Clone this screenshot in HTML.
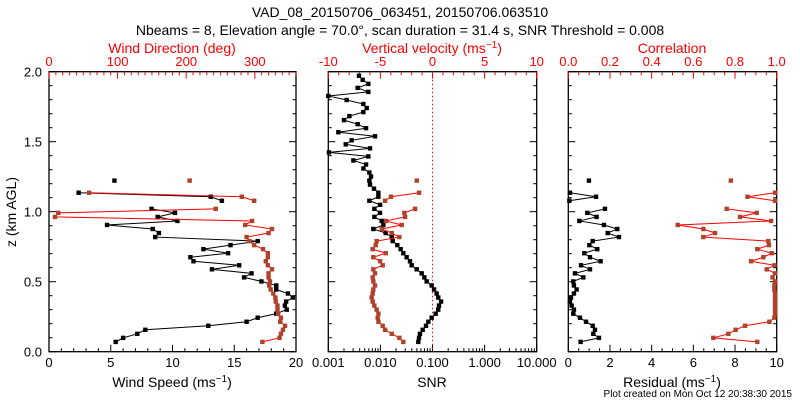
<!DOCTYPE html>
<html><head><meta charset="utf-8"><style>
body{margin:0;background:#fff}
svg{display:block;font-family:"Liberation Sans",sans-serif}
</style></head><body>
<svg id="c" width="800" height="400">
<text x="400" y="17" text-anchor="middle" font-size="14">VAD_08_20150706_063451, 20150706.063510</text>
<text x="400" y="35" text-anchor="middle" font-size="14">Nbeams = 8, Elevation angle = 70.0°, scan duration = 31.4 s, SNR Threshold = 0.008</text>
<text x="172" y="53" text-anchor="middle" font-size="14" fill="#f00">Wind Direction (deg)</text>
<text x="432" y="53" text-anchor="middle" font-size="14" fill="#f00">Vertical velocity (ms<tspan dy="-5" font-size="10">−1</tspan><tspan dy="5">)</tspan></text>
<text x="672" y="53" text-anchor="middle" font-size="14" fill="#f00">Correlation</text>
<text x="172" y="387" text-anchor="middle" font-size="14">Wind Speed (ms<tspan dy="-5" font-size="10">−1</tspan><tspan dy="5">)</tspan></text>
<text x="432" y="387" text-anchor="middle" font-size="14">SNR</text>
<text x="672" y="387" text-anchor="middle" font-size="14">Residual (ms<tspan dy="-5" font-size="10">−1</tspan><tspan dy="5">)</tspan></text>
<text x="16" y="212" text-anchor="middle" font-size="14" transform="rotate(-90 16 212)">z (km AGL)</text>
<text x="792" y="397" text-anchor="end" font-size="10">Plot created on Mon Oct 12 20:38:30 2015</text>
</svg>
<script>
const heightsBase = 0.07, heightStep = 0.0288;
const windSpeed = [5.4,6.0,7.15,7.8,12.9,16.0,16.9,18.4,19.25,19.1,19.2,19.75,19.35,18.4,18.4,17.2,15.8,16.4,13.2,15.4,11.7,11.45,14.5,12.5,14.7,16.9,8.6,8.9,8.4,4.7,10.4,8.8,10.2,8.3,null,14.0,13.1,2.4,null,null,5.3];
const windDir = [311,336,338,341,344,337,338,334,333,333,330.5,330,327,323,321,322,320,320,325,319,316,319,319,312,299,292,288,320,325,286,296,8.7,13.5,243,null,299,281,58.5,null,null,205];
const snr = [0.0534,0.0551,0.0575,0.0648,0.075,0.0832,0.0964,0.115,0.129,0.133,0.146,0.129,0.12,0.107,0.0964,0.0773,0.0697,0.0619,0.0497,0.0398,0.037,0.0319,0.0275,0.0245,0.0211,0.0172,0.0165,0.0126,0.00732,0.0114,0.0106,0.00766,0.00984,0.00766,0.00984,0.00614,0.00914,0.00914,0.00754,0.00632,0.00614,0.00661,0.00614,0.00471,0.0053,0.00303,0.00587,0.00103,0.00632,0.00216,0.00281,0.00789,0.00156,0.0053,0.00366,0.002,0.00254,0.00471,0.00546,0.00471,0.00225,0.001,0.00587,0.00366,0.00587,0.00457,0.00388];
const wVel = [-2.8,-3.18,-3.91,-4.55,-4.78,-5.19,-5.26,-5.19,-5.36,-5.58,-5.74,-5.84,-5.74,-5.68,-5.52,-5.68,-5.74,-5.52,-5.68,-4.78,-5.03,-5.68,-4.49,-5.74,-5.45,-5.36,-3.18,-3.91,-4.87,-2.96,-4.46,-2.63,-2.7,-1.67,null,-4.55,-3.98,-1.29,null,null,-1.51];
const residual = [0.59,1.47,1.2,1.28,1.17,0.85,0.56,0.24,0.27,0.16,0.08,0.13,0.27,0.4,0.27,0.24,0.72,0.32,1.04,0.61,1.55,1.04,0.77,1.39,1.01,1.17,2.43,1.89,2.35,1.71,0.53,1.36,0.91,1.76,null,0.05,1.33,0.08,null,null,0.99];
const correlation = [0.907,0.696,0.768,0.803,0.848,0.965,0.989,0.992,0.992,0.992,0.992,0.992,0.992,0.989,0.989,0.992,0.98,0.992,0.952,0.989,0.877,0.936,0.976,0.907,0.963,0.96,0.648,0.704,0.648,0.525,0.973,0.824,0.904,0.76,null,0.992,0.86,0.992,null,null,0.78];

const NS='http://www.w3.org/2000/svg', svg=document.getElementById('c');
const Y0=351.7, Y1=71.7;
const yS = z => Y0 - (z/2)*(Y0-Y1);
function el(t,a,p){const e=document.createElementNS(NS,t);for(const k in a)e.setAttribute(k,a[k]);(p||svg).appendChild(e);return e;}
function lin(a,b,l,r){return v=>l+(v-a)/(b-a)*(r-l);}
function logS(a,b,l,r){return v=>l+(Math.log10(v)-Math.log10(a))/(Math.log10(b)-Math.log10(a))*(r-l);}

function frame(l,r,name){
  const g=el('g',{});
  
  
  el('rect',{x:l,y:Y1,width:r-l,height:Y0-Y1,fill:'none',stroke:'#000','stroke-width':1.3},g);
  for(let k=0;k<=20;k++){const y=yS(k/10),len=k%5==0?7:3.5;
    el('line',{x1:l,x2:l+len,y1:y,y2:y,stroke:'#000'},g);
    el('line',{x1:r,x2:r-len,y1:y,y2:y,stroke:'#000'},g);}
  return g;
}
function bottomTicks(g,vals,sx,major,color){
  vals.forEach(v=>{const x=sx(v);el('line',{x1:x,x2:x,y1:Y0,y2:Y0-(major(v)?7:3.5),stroke:color},g);});
}
function topTicks(g,vals,sx,major,color){
  vals.forEach(v=>{const x=sx(v);el('line',{x1:x,x2:x,y1:Y1,y2:Y1+(major(v)?7:3.5),stroke:color},g);});
}
function labels(g,vals,sx,y,txt,color,nm){
  vals.forEach(v=>{const t=el('text',{x:sx(v),y:y,'text-anchor':'middle','font-size':13,fill:color},g);
    
    
    t.textContent=txt(v);});
}
function series(g,vals,sx,lineCol,markCol,nm){
  let seg=[];const segs=[];
  vals.forEach((v,i)=>{if(v==null){if(seg.length)segs.push(seg);seg=[];return;}
    seg.push([sx(v),yS(heightsBase+heightStep*i)]);});
  if(seg.length)segs.push(seg);
  segs.forEach(s=>{if(s.length>1){const p=el('polyline',{points:s.map(q=>q.join(',')).join(' '),fill:'none',stroke:lineCol,'stroke-width':1},g);
    
    }});
  vals.forEach((v,i)=>{if(v==null)return;const x=sx(v),y=yS(heightsBase+heightStep*i);
    const m=el('rect',{x:x-2.2,y:y-2.2,width:4.4,height:4.4,fill:markCol},g);
    
    });
}
const rng=(a,b,s)=>{const o=[];for(let v=a;v<=b+1e-9;v+=s)o.push(+v.toFixed(4));return o;};

// y labels
const yLabels=[0,0.5,1,1.5,2];
yLabels.forEach(z=>{const t=el('text',{x:42,y:yS(z)+5,'text-anchor':'end','font-size':13});
  
  
  t.textContent=z.toFixed(1);});

// Panel 1
const L1=49,R1=296;
const g1=frame(L1,R1,'wind-panel');
const sSpd=lin(0,20,L1,R1), sDir=lin(0,360,L1,R1);
bottomTicks(g1,rng(0,20,1),sSpd,v=>v%5==0,'#000');
topTicks(g1,rng(0,360,10),sDir,v=>v%100==0,'#f00');
labels(g1,[0,5,10,15,20],sSpd,367,v=>v,'#000','speed-tick-label');
labels(g1,[0,100,200,300],sDir,66,v=>v,'#f00','direction-tick-label');
series(g1,windSpeed,sSpd,'#000','#000','wind-speed');
series(g1,windDir,sDir,'#f00','#b0412a','wind-direction');

// Panel 2
const L2=328.3,R2=536.7;
const g2=frame(L2,R2,'snr-panel');
const sSnr=logS(0.001,10,L2,R2), sVel=lin(-10,10,L2,R2);
const logT=[];for(let d=-3;d<1;d++)for(let m=1;m<10;m++)logT.push(m*Math.pow(10,d));logT.push(10);
bottomTicks(g2,logT,sSnr,v=>Math.abs(Math.log10(v)-Math.round(Math.log10(v)))<1e-6,'#000');
topTicks(g2,rng(-10,10,1),sVel,v=>v%5==0,'#f00');
labels(g2,[0.001,0.01,0.1,1,10],sSnr,367,v=>v.toFixed(3),'#000','snr-tick-label');
labels(g2,[-10,-5,0,5,10],sVel,66,v=>v,'#f00','velocity-tick-label');
const dz=el('line',{x1:sVel(0),x2:sVel(0),y1:Y1,y2:Y0,stroke:'#f00','stroke-dasharray':'1.5,2.5'},g2);


series(g2,snr,sSnr,'#000','#000','snr');
series(g2,wVel,sVel,'#f00','#b0412a','vertical-velocity');

// Panel 3
const L3=568.3,R3=776.7;
const g3=frame(L3,R3,'residual-panel');
const sRes=lin(0,10,L3,R3), sCor=lin(0,1,L3,R3);
bottomTicks(g3,rng(0,10,0.5),sRes,v=>v%2==0,'#000');
topTicks(g3,rng(0,1,0.05),sCor,v=>Math.abs(v*5-Math.round(v*5))<1e-6,'#f00');
labels(g3,[0,2,4,6,8,10],sRes,367,v=>v,'#000','residual-tick-label');
labels(g3,[0,0.2,0.4,0.6,0.8,1],sCor,66,v=>v.toFixed(1),'#f00','correlation-tick-label');
series(g3,residual,sRes,'#000','#000','residual');
series(g3,correlation,sCor,'#f00','#b0412a','correlation');
</script>
</body></html>
